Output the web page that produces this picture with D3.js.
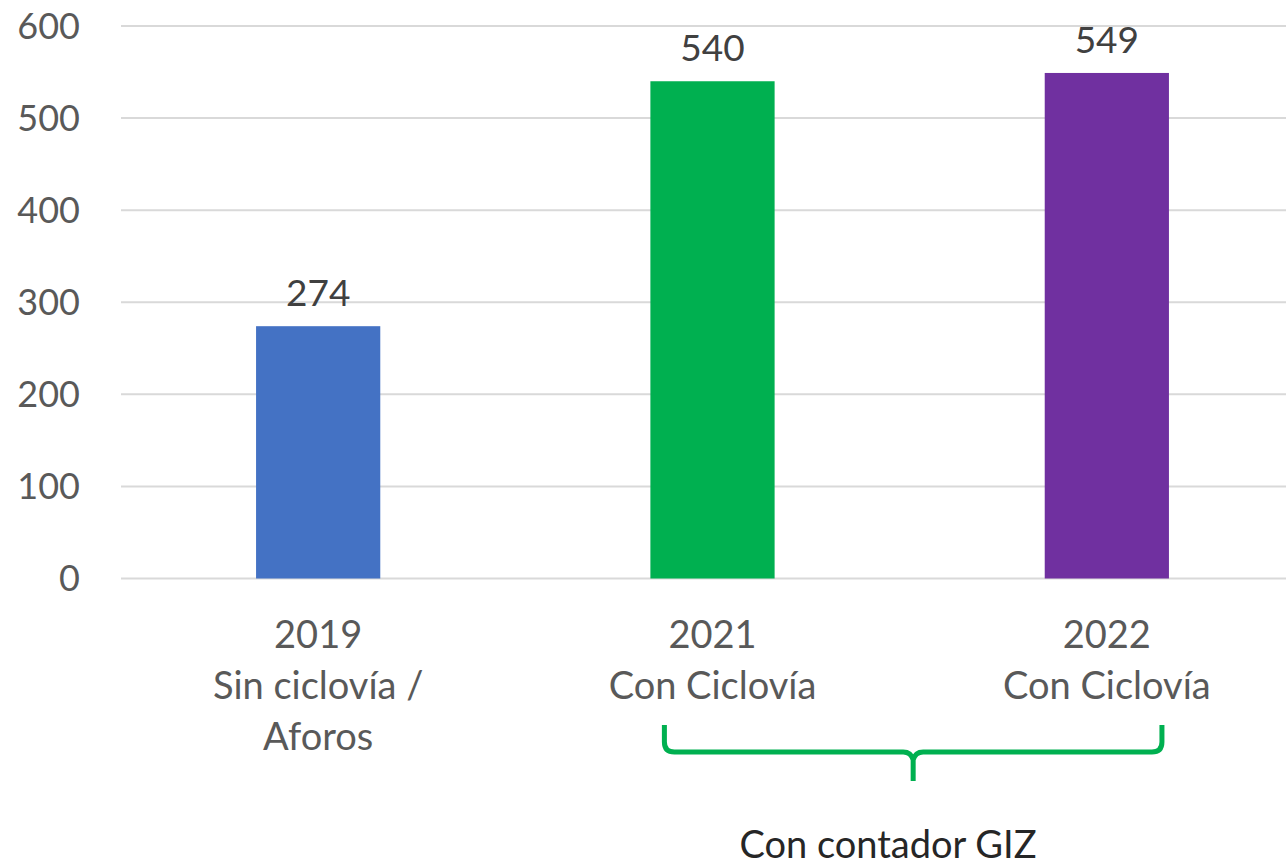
<!DOCTYPE html>
<html>
<head>
<meta charset="utf-8">
<script src="https://cdn.jsdelivr.net/npm/d3@7"></script>
<style>
  html, body { margin: 0; padding: 0; background: #fff; overflow: hidden; }
  svg { display: block; font-family: Lato, "Open Sans", sans-serif; }
</style>
</head>
<body>
<svg id="chart"></svg>
<script>
'use strict';

// chart data
const categories = ['2019', '2021', '2022'];
const subLabels = [['Sin ciclovía /', 'Aforos'], ['Con Ciclovía'], ['Con Ciclovía']];
const values = [274, 540, 549];
const barColors = ['#4472C4', '#00B050', '#7030A0'];
const yTicks = [0, 100, 200, 300, 400, 500, 600];
const braceLabel = 'Con contador GIZ';

const width = 1286, height = 868;
const svg = d3.select('#chart')
    .attr('width', width)
    .attr('height', height);

const x = d3.scaleBand()
    .domain(categories)
    .range([121, 1304])
    .paddingInner(0.685)
    .paddingOuter(0.3425);

const y = d3.scaleLinear()
    .domain([0, 600])
    .range([578.5, 26]);

/**
 * gridlines + y labels
 */
const yAxis = svg.append('g');
yAxis.selectAll('line')
    .data(yTicks)
    .join('line')
    .attr('x1', 121)
    .attr('x2', 1304)
    .attr('y1', d => y(d))
    .attr('y2', d => y(d))
    .style('stroke', '#d9d9d9')
    .style('stroke-width', 2);

yAxis.selectAll('text')
    .data(yTicks)
    .join('text')
    .attr('x', 80)
    .attr('y', d => y(d))
    .attr('dy', '0.36em')
    .attr('text-anchor', 'end')
    .style('font-size', '36px')
    .style('fill', '#595959')
    .text(d => d);

/**
 * bars
 */
svg.append('g').selectAll('rect')
    .data(values)
    .join('rect')
    .attr('x', (d, i) => x(categories[i]))
    .attr('y', d => y(d))
    .attr('width', x.bandwidth())
    .attr('height', d => y(0) - y(d))
    .style('fill', (d, i) => barColors[i]);

// value labels
svg.append('g').selectAll('text')
    .data(values)
    .join('text')
    .attr('x', (d, i) => x(categories[i]) + x.bandwidth() / 2)
    .attr('y', d => y(d) - 20)
    .attr('text-anchor', 'middle')
    .style('font-size', '37px')
    .style('fill', '#404040')
    .text(d => d);

/**
 * category labels (multi-line)
 */
const xLab = svg.append('g').selectAll('text')
    .data(categories)
    .join('text')
    .attr('text-anchor', 'middle')
    .style('font-size', '38px')
    .style('fill', '#595959');

xLab.each(function(d, i) {
    const t = d3.select(this);
    const cx = x(d) + x.bandwidth() / 2;
    [d].concat(subLabels[i]).forEach((line, k) => {
        t.append('tspan')
            .attr('x', cx)
            .attr('y', 648 + k * 51)
            .text(line);
    });
});

/**
 * brace under 2021 / 2022
 */
const bl = x('2021') + 14;
const br = x('2022') + x.bandwidth() - 7;
const bm = (bl + br) / 2;
const bTop = 725, bMid = 752, bTip = 781;
svg.append('path')
    .attr('d', `
        M${bl},${bTop}
        L${bl},${bMid - 10}
        Q${bl},${bMid} ${bl + 10},${bMid}
        L${bm - 10},${bMid}
        Q${bm - 2},${bMid} ${bm},${bMid + 8}
        L${bm},${bTip}
        M${bm},${bMid + 8}
        Q${bm + 2},${bMid} ${bm + 10},${bMid}
        L${br - 10},${bMid}
        Q${br},${bMid} ${br},${bMid - 10}
        L${br},${bTop}
    `)
    .style('fill', 'none')
    .style('stroke', '#00B050')
    .style('stroke-width', 5);

svg.append('text')
    .attr('x', 888)
    .attr('y', 858)
    .attr('text-anchor', 'middle')
    .style('font-size', '38px')
    .style('fill', '#262626')
    .text(braceLabel);
</script>
</body>
</html>
